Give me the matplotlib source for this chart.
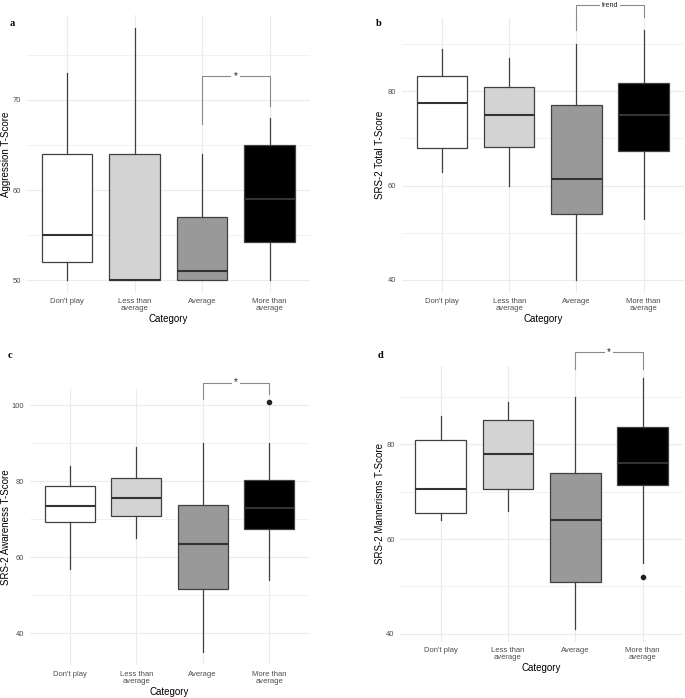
#!/usr/bin/env python3
"""
Boxplots de quatro escores T por categoria de uso (painéis a-d),
no estilo ggplot theme_minimal, com colchetes de significância.
"""

import matplotlib
matplotlib.use("Agg")
import matplotlib.pyplot as plt

plt.rcParams.update({
    'font.family': ['Liberation Sans', 'DejaVu Sans'],
    'font.size': 6,
})

W, H = 685, 698

# Categorias e cores de preenchimento
CATEGORIES = ["Don't play", "Less than\naverage", "Average", "More than\naverage"]
FILLS = ['#FFFFFF', '#D3D3D3', '#999999', '#000000']

# ==========================================================================
# DADOS: Q1, mediana, Q3, bigodes, outliers
# ==========================================================================
a_q1 = [52, 50, 50, 54.2]
a_med = [55, 50, 51, 59]
a_q3 = [64, 64, 57, 65]
a_lo = [50, 50, 50, 50]
a_hi = [73, 78, 64, 68]
a_out = [[], [], [], []]

b_q1 = [68, 68.3, 54, 67.3]
b_med = [77.6, 75, 61.5, 75]
b_q3 = [83.2, 81, 77.2, 81.8]
b_lo = [63, 60, 40, 53]
b_hi = [89, 87, 90, 93]
b_out = [[], [], [], []]

c_q1 = [69.2, 71, 51.6, 67.6]
c_med = [73.5, 75.5, 63.5, 73]
c_q3 = [78.8, 80.8, 73.9, 80.4]
c_lo = [57, 65, 35, 54]
c_hi = [84, 89, 90, 90]
c_out = [[], [], [], [101]]

d_q1 = [65.5, 70.5, 51, 71.5]
d_med = [70.5, 78, 64, 76]
d_q3 = [81, 85.2, 73.9, 83.7]
d_lo = [64, 66, 41, 55]
d_hi = [86, 89, 90, 94]
d_out = [[], [], [], [52]]

# Colchetes (Average vs More than average): topo, fim perna esq., fim perna dir.
a_bracket = (72.7, 67.3, 69.3, '*')
b_bracket = (98.2, 93.0, 95.7, 'trend')
c_bracket = (106.0, 101.7, 102.9, '*')
d_bracket = (99.5, 96.0, 96.0, '*')

PANELS = [
    dict(letter='a', ylabel='Aggression T-Score',
         q1=a_q1, med=a_med, q3=a_q3, lo=a_lo, hi=a_hi, out=a_out,
         bracket=a_bracket, major=10,
         box_px=(26.7, 15.4, 310, 292.6), letter_px=(10, 24), ylab_x=6),
    dict(letter='b', ylabel='SRS-2 Total T-Score',
         q1=b_q1, med=b_med, q3=b_q3, lo=b_lo, hi=b_hi, out=b_out,
         bracket=b_bracket, major=20,
         box_px=(401.7, 17.5, 684, 292.5), letter_px=(376, 23), ylab_x=380),
    dict(letter='c', ylabel='SRS-2 Awareness T-Score',
         q1=c_q1, med=c_med, q3=c_q3, lo=c_lo, hi=c_hi, out=c_out,
         bracket=c_bracket, major=20,
         box_px=(30, 389, 309, 665), letter_px=(8, 355), ylab_x=6),
    dict(letter='d', ylabel='SRS-2 Mannerisms T-Score',
         q1=d_q1, med=d_med, q3=d_q3, lo=d_lo, hi=d_hi, out=d_out,
         bracket=d_bracket, major=20,
         box_px=(400.3, 365.5, 683, 641.5), letter_px=(378, 355), ylab_x=380),
]

EDGE = '#404040'
GRID = '#EBEBEB'
TICK = '#4D4D4D'


def draw_panel(fig, p):
    x0, y0, x1, y1 = p['box_px']
    ax = fig.add_axes([x0 / W, 1 - y1 / H, (x1 - x0) / W, (y1 - y0) / H])

    stats = []
    for i in range(len(CATEGORIES)):
        stats.append(dict(med=p['med'][i], q1=p['q1'][i], q3=p['q3'][i],
                          whislo=p['lo'][i], whishi=p['hi'][i],
                          fliers=p['out'][i]))
    pos = list(range(1, len(CATEGORIES) + 1))
    bp = ax.bxp(stats, positions=pos, widths=0.75, patch_artist=True,
                showcaps=False,
                boxprops=dict(edgecolor=EDGE, linewidth=0.9),
                whiskerprops=dict(color=EDGE, linewidth=0.9),
                medianprops=dict(color='#333333', linewidth=1.5),
                flierprops=dict(marker='o', markerfacecolor='#222222',
                                markeredgecolor='#222222', markersize=3))
    for patch, fc in zip(bp['boxes'], FILLS):
        patch.set_facecolor(fc)
    for art in bp['boxes'] + bp['whiskers'] + bp['medians'] + bp['fliers']:
        art.set_zorder(3)

    # Limites com expansão de 5% (estilo ggplot)
    lo = min(p['lo'] + [v for o in p['out'] for v in o])
    hi = max(p['hi'] + [v for o in p['out'] for v in o])
    pad = 0.05 * (hi - lo)
    ax.set_ylim(lo - pad, hi + pad)
    ax.set_xlim(0.4, len(CATEGORIES) + 0.6)

    step = p['major']
    start = int(lo // step) * step
    majors = [v for v in range(start, int(hi + pad) + step, step)
              if lo - pad <= v <= hi + pad]
    minors = [v + step / 2 for v in range(start - step, int(hi + pad) + step, step)
              if lo - pad <= v + step / 2 <= hi + pad]
    ax.set_yticks(majors)
    ax.set_yticks(minors, minor=True)
    ax.set_xticks(pos)
    ax.set_xticklabels(CATEGORIES, linespacing=1.0)

    ax.grid(True, which='major', color=GRID, linewidth=0.8, zorder=0)
    ax.grid(True, which='minor', axis='y', color=GRID, linewidth=0.45, zorder=0)
    ax.set_axisbelow(True)
    for s in ax.spines.values():
        s.set_visible(False)
    ax.tick_params(which='both', length=0, labelsize=5.5, labelcolor=TICK)
    ax.tick_params(axis='x', pad=4)
    ax.tick_params(axis='y', pad=4)
    ax.set_xlabel('Category', fontsize=7, labelpad=1.5)
    ax.set_ylabel(p['ylabel'], fontsize=7, va='center')
    ax.yaxis.set_label_coords((p['ylab_x'] - x0) / (x1 - x0), 0.5)

    # Colchete de significância
    top, l_end, r_end, label = p['bracket']
    xl, xr = 3, 4
    ax.plot([xl, xl, xr, xr], [l_end, top, top, r_end], color='#8A8A8A',
            linewidth=0.8, clip_on=False, zorder=4)
    fs = 7 if label == '*' else 5.2
    ax.text((xl + xr) / 2, top, label, ha='center', va='center', fontsize=fs,
            color='#222222', clip_on=False, zorder=5,
            bbox=dict(boxstyle='square,pad=0.25', fc='white', ec='none'))

    lx, ly = p['letter_px']
    fig.text(lx / W, 1 - ly / H, p['letter'], ha='left', va='center',
             fontsize=7.5, fontweight='bold',
             family=['Liberation Serif', 'DejaVu Serif'])
    return ax


def main():
    fig = plt.figure(figsize=(W / 100, H / 100), dpi=100)
    for p in PANELS:
        draw_panel(fig, p)
    fig.savefig('out.png', dpi=100, facecolor='white')
    plt.close(fig)


if __name__ == "__main__":
    main()
